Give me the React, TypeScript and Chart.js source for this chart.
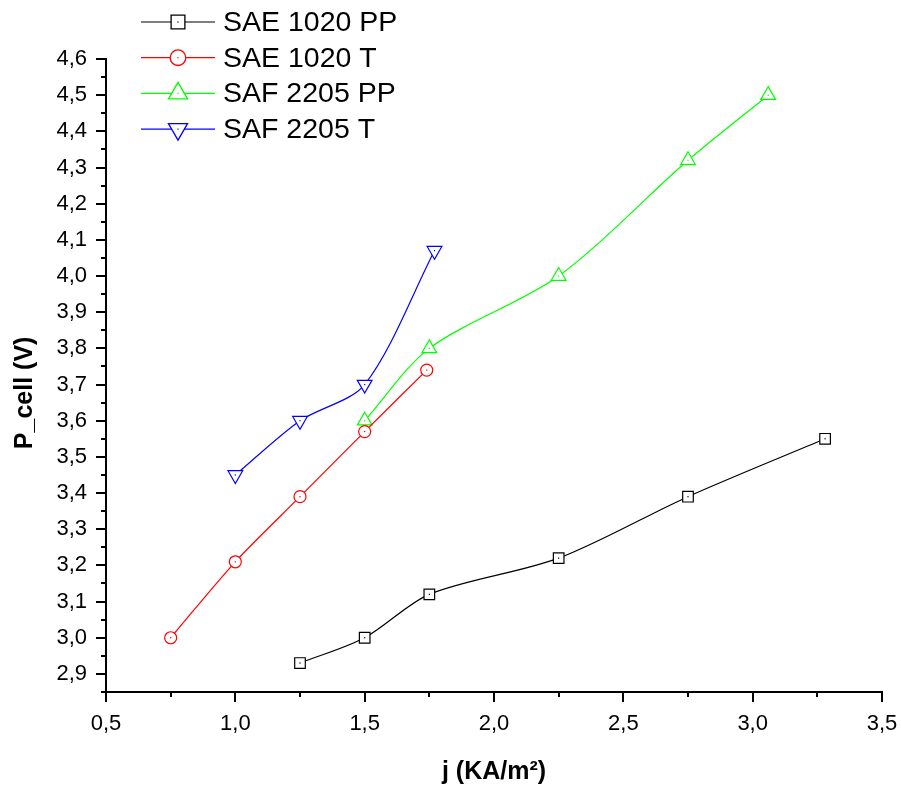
import React, { useEffect, useRef } from "react";
import { Chart, registerables } from "chart.js";

Chart.register(...registerables);

// ---- Data ----
const sae1020ppX = [1.25, 1.5, 1.75, 2.25, 2.75, 3.28];
const sae1020ppY = [2.93, 3.0, 3.12, 3.22, 3.39, 3.55];
const sae1020tX = [0.75, 1.0, 1.25, 1.5, 1.74];
const sae1020tY = [3.0, 3.21, 3.39, 3.57, 3.74];
const saf2205ppX = [1.5, 1.75, 2.25, 2.75, 3.06];
const saf2205ppY = [3.6, 3.8, 4.0, 4.32, 4.5];
const saf2205tX = [1.0, 1.25, 1.5, 1.77];
const saf2205tY = [3.45, 3.6, 3.7, 4.07];

const seriesNames = ["SAE 1020 PP", "SAE 1020 T", "SAF 2205 PP", "SAF 2205 T"];
const seriesColors = ["#000000", "#ff0000", "#00ff00", "#0000ff"];

// tick values (labels use a comma decimal separator)
const xTickValues = [0.5, 1.0, 1.5, 2.0, 2.5, 3.0, 3.5];
const yTickValues = [2.9, 3.0, 3.1, 3.2, 3.3, 3.4, 3.5, 3.6, 3.7, 3.8, 3.9, 4.0, 4.1, 4.2, 4.3, 4.4, 4.5, 4.6];

const xTitle = "j (KA/m\u00B2)";
const yTitle = "P_cell (V)";

const FONT = '"Liberation Sans", Arial, Helvetica, sans-serif';

const toPts = (xs: number[], ys: number[]) => xs.map((x, i) => ({ x, y: ys[i] }));
const fmt = (v: number | string) => Number(v).toFixed(1).replace(".", ",");

type MarkerKind = "rect" | "circle" | "triangle" | "triangleDown";
const markerKinds: MarkerKind[] = ["rect", "circle", "triangle", "triangleDown"];
const markerRadius = [7.5, 6, 8.5, 8.5];
const legendScale = 1.3;

function drawMarker(ctx: CanvasRenderingContext2D, kind: MarkerKind, x: number, y: number, r: number, color: string) {
  ctx.save();
  ctx.beginPath();
  if (kind === "rect") {
    const s = Math.SQRT1_2 * r;
    ctx.rect(x - s, y - s, 2 * s, 2 * s);
  } else if (kind === "circle") {
    ctx.arc(x, y, r, 0, Math.PI * 2);
  } else {
    let rad = kind === "triangle" ? 0 : Math.PI;
    ctx.moveTo(x + Math.sin(rad) * r, y - Math.cos(rad) * r);
    rad += (2 * Math.PI) / 3;
    ctx.lineTo(x + Math.sin(rad) * r, y - Math.cos(rad) * r);
    rad += (2 * Math.PI) / 3;
    ctx.lineTo(x + Math.sin(rad) * r, y - Math.cos(rad) * r);
    ctx.closePath();
  }
  ctx.fillStyle = "#ffffff";
  ctx.fill();
  ctx.lineWidth = 1.3;
  ctx.strokeStyle = color;
  ctx.stroke();
  ctx.fillStyle = color;
  ctx.fillRect(x - 0.6, y - 0.6, 1.2, 1.2);
  ctx.restore();
}

const decorPlugin = {
  id: "decor",
  afterDatasetsDraw(chart: any) {
    const ctx: CanvasRenderingContext2D = chart.ctx;
    chart.data.datasets.forEach((ds: any, i: number) => {
      const meta = chart.getDatasetMeta(i);
      ctx.save();
      ctx.fillStyle = ds.borderColor;
      meta.data.forEach((p: any) => {
        ctx.fillRect(p.x - 0.6, p.y - 0.6, 1.2, 1.2);
      });
      ctx.restore();
    });
  },
  afterDraw(chart: any) {
    const ctx: CanvasRenderingContext2D = chart.ctx;
    const xs = chart.scales.x;
    const ys = chart.scales.y;
    ctx.save();
    ctx.strokeStyle = "#000";
    ctx.lineWidth = 2;
    ctx.lineCap = "butt";
    const yAxisX = chart.chartArea.left;
    for (let i = Math.ceil(ys.min / 0.05 - 1e-6); i * 0.05 <= ys.max + 1e-6; i++) {
      const v = i * 0.05;
      const py = Math.round(ys.getPixelForValue(v));
      const len = i % 2 === 0 ? 10 : 5;
      ctx.beginPath();
      ctx.moveTo(yAxisX, py);
      ctx.lineTo(yAxisX - len, py);
      ctx.stroke();
    }
    const xAxisY = chart.chartArea.bottom;
    for (let i = Math.ceil(xs.min / 0.25 - 1e-6); i * 0.25 <= xs.max + 1e-6; i++) {
      const v = i * 0.25;
      const px = Math.round(xs.getPixelForValue(v));
      const len = i % 2 === 0 ? 10 : 5;
      ctx.beginPath();
      ctx.moveTo(px, xAxisY);
      ctx.lineTo(px, xAxisY + len);
      ctx.stroke();
    }
    ctx.restore();

    // legend
    ctx.save();
    chart.data.datasets.forEach((ds: any, i: number) => {
      const y = 22 + i * 35.7;
      ctx.beginPath();
      ctx.strokeStyle = ds.borderColor;
      ctx.lineWidth = 1.2;
      ctx.moveTo(141, y);
      ctx.lineTo(215, y);
      ctx.stroke();
      drawMarker(ctx, markerKinds[i], 178, y, markerRadius[i] * legendScale, ds.borderColor);
      ctx.fillStyle = "#000";
      ctx.font = `28.5px ${FONT}`;
      ctx.textAlign = "left";
      ctx.textBaseline = "middle";
      ctx.fillText(ds.label, 223, y + 1);
    });
    ctx.restore();
  },
};

export default function App() {
  const canvasRef = useRef<HTMLCanvasElement | null>(null);

  useEffect(() => {
    document.body.style.margin = "0";
    const canvas = canvasRef.current;
    if (!canvas) return;
    const xsArr = [sae1020ppX, sae1020tX, saf2205ppX, saf2205tX];
    const ysArr = [sae1020ppY, sae1020tY, saf2205ppY, saf2205tY];
    const datasets = seriesNames.map((name, i) => ({
      label: name,
      data: toPts(xsArr[i], ysArr[i]),
      borderColor: seriesColors[i],
      backgroundColor: "#ffffff",
      borderWidth: 1.2,
      tension: 0.3,
      pointStyle: markerKinds[i] === "triangleDown" ? "triangle" : markerKinds[i],
      pointRotation: markerKinds[i] === "triangleDown" ? 180 : 0,
      pointRadius: markerRadius[i],
      pointBorderWidth: 1.2,
      pointBackgroundColor: "#ffffff",
      pointBorderColor: seriesColors[i],
      fill: false,
    }));

    const tickFont = { family: FONT, size: 22 };
    const titleFont = { family: FONT, size: 25, weight: "bold" as const, lineHeight: 1.2 };
    const hiddenGrid = {
      display: true,
      drawOnChartArea: false,
      drawTicks: true,
      tickLength: 10,
      color: "rgba(0,0,0,0)",
    };

    const chart = new Chart(canvas, {
      type: "line",
      data: { datasets } as any,
      plugins: [decorPlugin],
      options: {
        responsive: false,
        animation: false,
        devicePixelRatio: 1,
        layout: { padding: { top: 59, right: 19, left: 0, bottom: 0 } },
        plugins: {
          legend: { display: false },
          tooltip: { enabled: false },
        },
        scales: {
          x: {
            type: "linear",
            min: 0.5,
            max: 3.5,
            afterBuildTicks: (s: any) => {
              s.ticks = xTickValues.map((v) => ({ value: v }));
            },
            ticks: {
              color: "#000",
              font: tickFont,
              padding: 9,
              maxRotation: 0,
              autoSkip: false,
              callback: (v: any) => fmt(v),
            },
            grid: hiddenGrid,
            border: { display: true, color: "#000", width: 2 },
            title: {
              display: true,
              text: xTitle,
              color: "#000",
              font: titleFont,
              padding: { top: 0, bottom: 2 },
            },
            afterFit: (s: any) => {
              s.height = 97;
              s.paddingLeft = 0;
              s.paddingRight = 0;
            },
          },
          y: {
            type: "linear",
            min: 2.85,
            max: 4.6,
            afterBuildTicks: (s: any) => {
              s.ticks = yTickValues.map((v) => ({ value: v }));
            },
            ticks: {
              autoSkip: false,
              color: "#000",
              font: tickFont,
              padding: 9,
              callback: (v: any) => fmt(v),
            },
            grid: hiddenGrid,
            border: { display: true, color: "#000", width: 2 },
            title: {
              display: true,
              text: yTitle + "     ",
              color: "#000",
              font: titleFont,
              padding: { top: 10, bottom: 0 },
            },
            afterFit: (s: any) => {
              s.width = 106;
              s.paddingTop = 0;
              s.paddingBottom = 0;
            },
          },
        },
      } as any,
    });
    return () => chart.destroy();
  }, []);

  return (
    <div style={{ width: 901, height: 789, position: "relative", background: "#fff" }}>
      <canvas ref={canvasRef} width={901} height={789} />
    </div>
  );
}
